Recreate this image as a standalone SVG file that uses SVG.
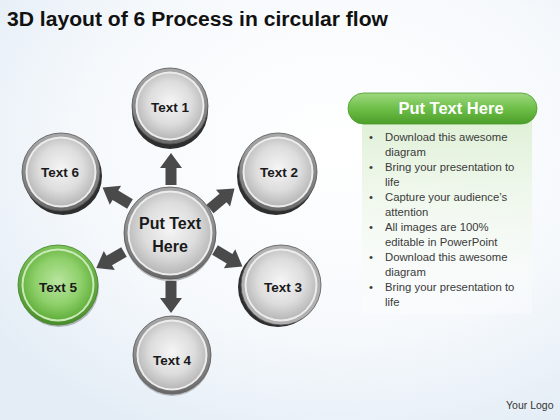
<svg xmlns="http://www.w3.org/2000/svg" width="560" height="420" viewBox="0 0 560 420">
<defs>
<radialGradient id="bg" cx="60%" cy="35%" r="75%">
<stop offset="0" stop-color="#ffffff"/><stop offset="0.6" stop-color="#f6f9fc"/><stop offset="1" stop-color="#e4edf6"/>
</radialGradient>
<linearGradient id="ring" x1="0" y1="0" x2="0" y2="1">
<stop offset="0" stop-color="#a8a8a8"/><stop offset="1" stop-color="#6a6a6a"/>
</linearGradient>
<radialGradient id="face" cx="50%" cy="45%" r="55%">
<stop offset="0" stop-color="#f5f5f5"/><stop offset="0.6" stop-color="#dddddd"/><stop offset="1" stop-color="#b8b8b8"/>
</radialGradient>
<linearGradient id="gring" x1="0" y1="0" x2="0" y2="1">
<stop offset="0" stop-color="#7cc35a"/><stop offset="1" stop-color="#4a8f2c"/>
</linearGradient>
<radialGradient id="gface" cx="50%" cy="45%" r="55%">
<stop offset="0" stop-color="#b9e5a0"/><stop offset="0.6" stop-color="#8fd06b"/><stop offset="1" stop-color="#62b03d"/>
</radialGradient>
<linearGradient id="pill" x1="0" y1="0" x2="0" y2="1">
<stop offset="0" stop-color="#9fd881"/><stop offset="0.5" stop-color="#6dbf47"/><stop offset="1" stop-color="#4c9e2b"/>
</linearGradient>
<linearGradient id="panel" x1="0" y1="0" x2="0" y2="1">
<stop offset="0" stop-color="#dff0d6"/><stop offset="1" stop-color="#ffffff" stop-opacity="0.3"/>
</linearGradient>
<linearGradient id="arr" x1="0" y1="0" x2="0" y2="1">
<stop offset="0" stop-color="#5e5e5e"/><stop offset="1" stop-color="#3c3c3c"/>
</linearGradient>
<path id="arrow" d="M0,-5.5 L17,-5.5 L17,-11 L32,0 L17,11 L17,5.5 L0,5.5 Z"/>
</defs>
<style>
.shadow{fill:#2e2e2e}
.ring{fill:url(#ring);stroke:#555;stroke-width:0.8}
.inner{fill:#ececec}
.face{fill:url(#face)}
.gring{fill:url(#gring);stroke:#3f7f25;stroke-width:0.8}
.ginner{fill:#c9eab6}
.gface{fill:url(#gface)}
.lbl{font-family:"Liberation Sans",Arial,sans-serif;font-weight:bold;font-size:13.5px;fill:#1a1a1a;text-anchor:middle}
.clbl{font-family:"Liberation Sans",Arial,sans-serif;font-weight:bold;font-size:16px;fill:#1a1a1a;text-anchor:middle}
.bul{font-family:"Liberation Sans",Arial,sans-serif;font-size:11.3px;fill:#3a3a3a}
.conn use{fill:#4a4a4a}
</style>
<rect x="0" y="0" width="560" height="420" fill="url(#bg)"/>
<text x="7" y="26" font-family="Liberation Sans,Arial,sans-serif" font-weight="bold" font-size="20" fill="#111" textLength="381" lengthAdjust="spacingAndGlyphs">3D layout of 6 Process in circular flow</text>

<g id="connectors" class="conn">
<use href="#arrow" transform="translate(171,185) rotate(-90)"/>
<use href="#arrow" transform="translate(171,281) rotate(90)"/>
<use href="#arrow" transform="translate(210,209) rotate(-40)"/>
<use href="#arrow" transform="translate(130,204) rotate(-149)"/>
<use href="#arrow" transform="translate(124,252) rotate(150)"/>
<use href="#arrow" transform="translate(215,250) rotate(31)"/>
</g>

<g id="node-center">
<circle class="shadow" cx="170" cy="235" r="46" opacity="0.35"/>
<circle class="ring" cx="170" cy="233" r="46"/>
<circle class="inner" cx="170" cy="233" r="42.5"/>
<circle class="face" cx="170" cy="233" r="40.5"/>
<text class="clbl" x="170" y="229">Put Text</text>
<text class="clbl" x="170" y="252">Here</text>
</g>

<g id="node-1">
<circle class="shadow" cx="170" cy="111" r="38"/>
<circle class="ring" cx="170" cy="106" r="38"/>
<circle class="inner" cx="170" cy="106" r="34.5"/>
<circle class="face" cx="170" cy="106" r="32.5"/>
<text class="lbl" x="170" y="112">Text 1</text>
</g>

<g id="node-2">
<circle class="shadow" cx="276" cy="176" r="39"/>
<circle class="ring" cx="278" cy="172" r="39"/>
<circle class="inner" cx="278" cy="172" r="35.5"/>
<circle class="face" cx="278" cy="172" r="33.5"/>
<text class="lbl" x="279" y="177">Text 2</text>
</g>

<g id="node-3">
<circle class="shadow" cx="278" cy="287" r="40"/>
<circle class="ring" cx="281" cy="285" r="40" style="fill:#b0b0b0"/>
<circle class="inner" cx="281" cy="285" r="36.5"/>
<circle class="face" cx="281" cy="285" r="34.5"/>
<text class="lbl" x="283" y="292">Text 3</text>
</g>

<g id="node-4">
<circle class="shadow" cx="172" cy="357" r="39" opacity="0.3"/>
<circle class="ring" cx="172" cy="355" r="39"/>
<circle class="inner" cx="172" cy="355" r="35.5"/>
<circle class="face" cx="172" cy="355" r="33.5"/>
<text class="lbl" x="172" y="365">Text 4</text>
</g>

<g id="node-5">
<circle class="shadow" cx="59" cy="287" r="40" opacity="0.3"/>
<circle class="gring" cx="58" cy="285" r="40"/>
<circle class="ginner" cx="58" cy="285" r="36.5"/>
<circle class="gface" cx="58" cy="285" r="34.5"/>
<text class="lbl" x="58" y="292">Text 5</text>
</g>

<g id="node-6">
<circle class="shadow" cx="63" cy="176" r="39"/>
<circle class="ring" cx="61" cy="172" r="39"/>
<circle class="inner" cx="61" cy="172" r="35.5"/>
<circle class="face" cx="61" cy="172" r="33.5"/>
<text class="lbl" x="60" y="177">Text 6</text>
</g>

<g id="panel">
<rect x="362" y="118" width="170" height="196" fill="url(#panel)"/>
<rect x="348" y="93" width="189" height="31" rx="15.5" fill="url(#pill)" stroke="#4a9a2a" stroke-width="0.8"/>
<text x="451" y="114" font-family="Liberation Sans,Arial,sans-serif" font-weight="bold" font-size="16.5" fill="#ffffff" text-anchor="middle">Put Text Here</text>
<g class="bul">
<text x="369" y="141">•</text><text x="385" y="141">Download this awesome</text>
<text x="385" y="156">diagram</text>
<text x="369" y="171">•</text><text x="385" y="171">Bring your presentation to</text>
<text x="385" y="186">life</text>
<text x="369" y="201">•</text><text x="385" y="201">Capture your audience’s</text>
<text x="385" y="216">attention</text>
<text x="369" y="231">•</text><text x="385" y="231">All images are 100%</text>
<text x="385" y="246">editable in PowerPoint</text>
<text x="369" y="261">•</text><text x="385" y="261">Download this awesome</text>
<text x="385" y="276">diagram</text>
<text x="369" y="291">•</text><text x="385" y="291">Bring your presentation to</text>
<text x="385" y="306">life</text>
</g>
</g>
<text x="506" y="409" font-family="Liberation Sans,Arial,sans-serif" font-size="10.5" fill="#333">Your Logo</text>
</svg>
